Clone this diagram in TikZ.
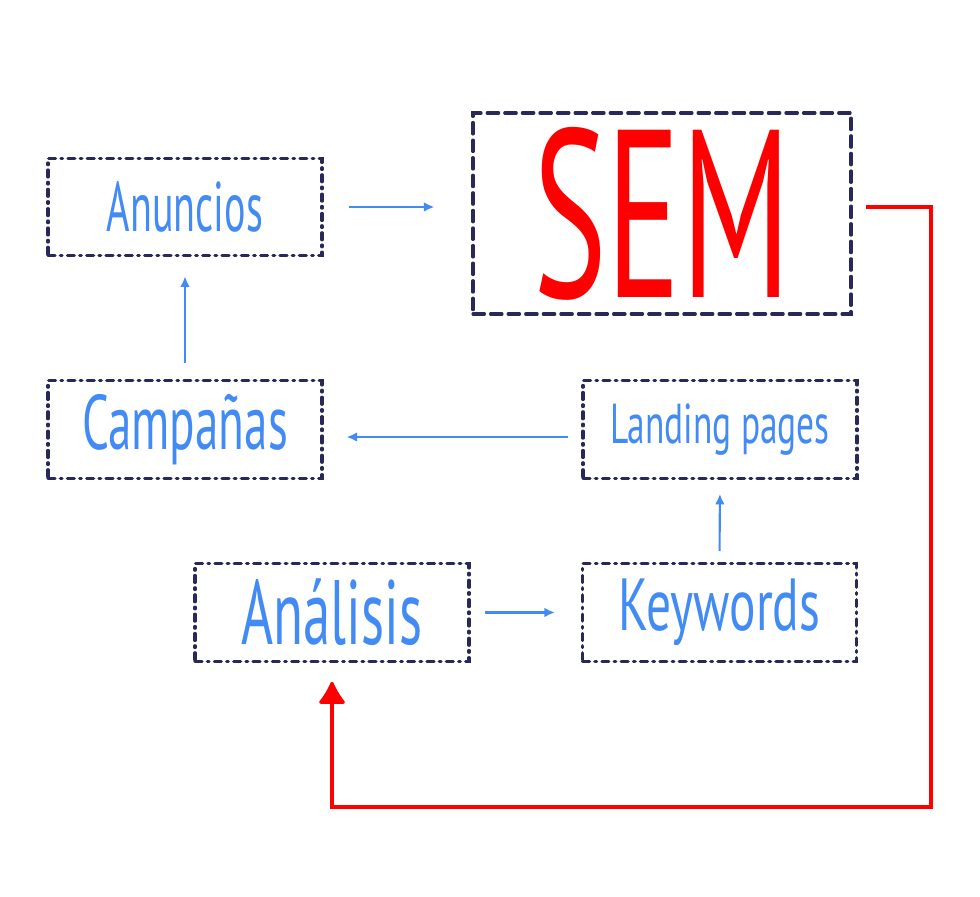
\documentclass[tikz,border=0pt]{standalone}
\usepackage{fontspec}
\setmainfont{PT Sans}
\usetikzlibrary{arrows.meta}

\definecolor{boxnavy}{RGB}{40,40,90}
\definecolor{textblue}{RGB}{66,139,245}
\definecolor{semred}{RGB}{255,0,0}

% condensed labels
\newcommand{\narrow}[3][0.6]{\scalebox{#1}[1]{\fontsize{#2}{#2}\selectfont #3}}

\tikzset{
  box/.style={draw=boxnavy, line width=1.8pt, line cap=round,
    dash pattern=on 4pt off 3pt on 1pt off 3pt,
    minimum width=5.48cm, minimum height=1.95cm, inner sep=0pt,
    text=textblue},
  bigbox/.style={box, dash pattern=on 6.5pt off 3.5pt,
    minimum width=7.56cm, minimum height=4.02cm, text=semred},
  flow/.style={textblue, line width=1.2pt, -{Latex[length=6pt,width=5.5pt]}},
  back/.style={semred, line width=1.8pt, -{Latex[round,length=14pt,width=17pt]}}
}

\begin{document}
\begin{tikzpicture}
    \useasboundingbox (0,0) rectangle (19.6,17.92);

    % Boxes
    \node[box] (anun) at (3.70, 13.78) {\narrow[0.57]{40pt}{Anuncios}};
    \node[bigbox] (sem) at (13.24, 13.65) {\narrow[0.58]{136pt}{SEM}};
    \node[box] (camp) at (3.70, 9.33) {\narrow[0.61]{44pt}{Campañas}};
    \node[box] (land) at (14.40, 9.33) {\narrow[0.63]{32pt}{Landing pages}};
    \node[box] (anal) at (6.64, 5.67) {\narrow[0.6]{52pt}{Análisis}};
    \node[box] (keyw) at (14.39, 5.67) {\narrow[0.67]{42pt}{Keywords}};

    % Corners of the return line
    \coordinate (c1) at (18.62, 13.78);
    \coordinate (c2) at (18.62, 1.78);

    % Flow
    \draw[flow, shorten <=0.50cm, shorten >=0.74cm] (anun.east) -- (anun.east -| sem.west);
    \draw[flow, shorten <=0.32cm, shorten >=0.38cm] (camp.north) -- (anun.south);
    \draw[flow, shorten <=0.26cm, shorten >=0.46cm] ([yshift=-0.15cm]land.west) -- ([yshift=-0.15cm]camp.east);
    \draw[flow, shorten <=0.22cm, shorten >=0.28cm] (keyw.north) -- (land.south);
    \draw[flow, shorten <=0.28cm, shorten >=0.52cm] (anal.east) -- (keyw.west);

    % Back to the analysis
    \draw[back, shorten >=0.38cm] ([xshift=0.26cm]sem.east |- c1) -- (c1) -- (c2) -- (c2 -| anal.south) -- (anal.south);

\end{tikzpicture}
\end{document}
